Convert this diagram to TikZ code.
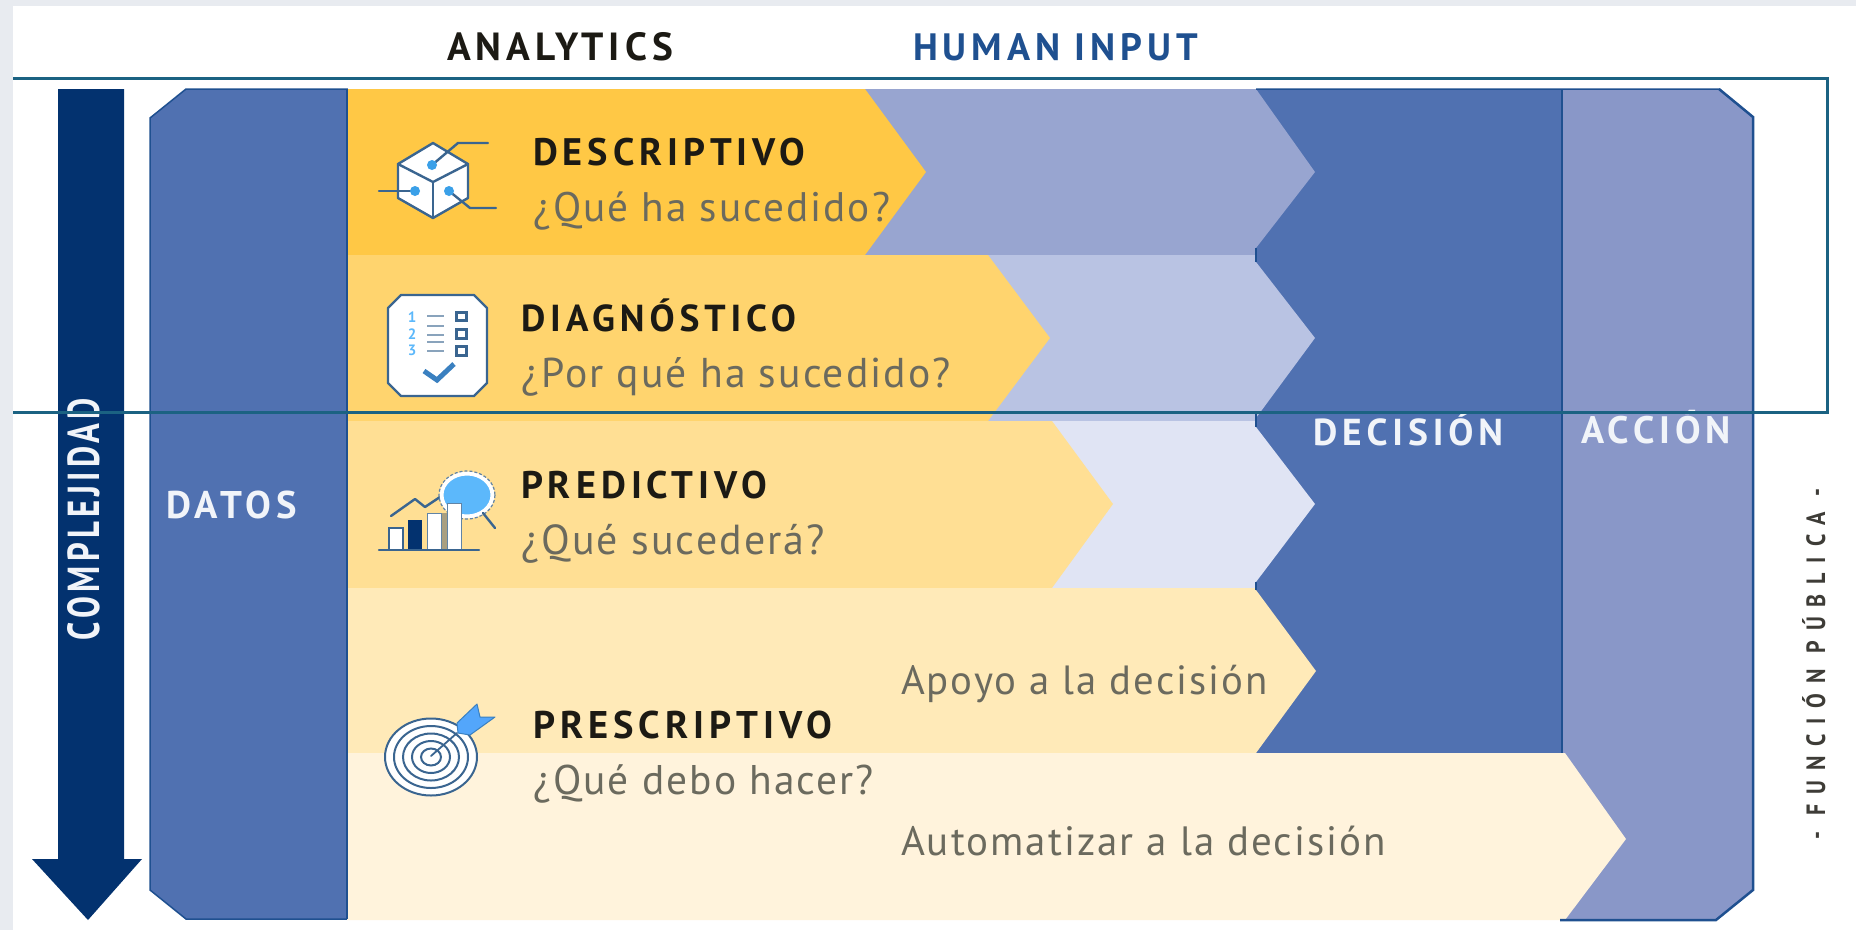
\documentclass[tikz,border=0pt]{standalone}
\usepackage{fontspec}
\usepackage{graphicx}
\newfontfamily\headf{PT Sans}[LetterSpace=13]
\newfontfamily\onf{PT Sans}[LetterSpace=13]
\newfontfamily\subf{PT Sans}[LetterSpace=5]
\newfontfamily\widef{PT Sans}[LetterSpace=45]
\newcommand{\hfit}[2]{\resizebox{#1pt}{!}{\headf\bfseries\fontsize{36}{40}\selectfont #2}}
\newcommand{\ofit}[2]{\resizebox{#1pt}{!}{\onf\bfseries\fontsize{36}{40}\selectfont #2}}
\newcommand{\sfit}[2]{\resizebox{#1pt}{!}{\subf\fontsize{36}{40}\selectfont #2}}
\definecolor{pagebg}{HTML}{E8EBF0}
\definecolor{framec}{HTML}{1B6282}
\definecolor{navy}{HTML}{03326F}
\definecolor{datac}{HTML}{5071B1}
\definecolor{edgec}{HTML}{1F5090}
\definecolor{accionc}{HTML}{8997C8}
\definecolor{yone}{HTML}{FFC845}
\definecolor{ytwo}{HTML}{FFD46E}
\definecolor{ythree}{HTML}{FFDF94}
\definecolor{yfour}{HTML}{FFEAB8}
\definecolor{yfive}{HTML}{FFF3DC}
\definecolor{lone}{HTML}{98A5D0}
\definecolor{ltwo}{HTML}{B9C3E3}
\definecolor{lthree}{HTML}{E0E4F4}
\definecolor{inkc}{HTML}{1C1A14}
\definecolor{subc}{HTML}{6B6A5E}
\definecolor{iconc}{HTML}{3A6590}
\definecolor{skyc}{HTML}{5CB8FB}
\definecolor{dotc}{HTML}{3AA0E8}
\definecolor{checkc}{HTML}{3A80C0}
\definecolor{shadowc}{HTML}{A99F80}
\tikzset{
  txt/.style={anchor=base west,inner sep=0pt,outer sep=0pt},
  heading/.style={txt,text=inkc},
  subtitle/.style={txt,text=subc},
  onblue/.style={txt,text=white!92!datac},
  iconline/.style={draw=iconc,line width=2.4pt,line cap=round,line join=round},
  thinedge/.style={draw=edgec,line width=1.5pt},
  notch/.style={draw=edgec,line width=2.5pt},
}
\begin{document}
\begin{tikzpicture}[x=1pt,y=-1pt]
\useasboundingbox (0,0) rectangle (1856,930);
\fill[pagebg] (0,0) rectangle (1856,930);
\fill[white] (13,6) rectangle (1856,930);
% complexity arrow
\fill[navy] (58,89) -- (124,89) -- (124,859) -- (142,859) -- (88,920) -- (32,859) -- (58,859) -- cycle;
% datos
\path[fill=datac,thinedge] (150,118) -- (186,89) -- (347,89) -- (347,919) -- (186,919) -- (150,890) -- cycle;
% accion
\fill[accionc] (1562,89) -- (1719,89) -- (1753,117) -- (1753,890) -- (1716,920) -- (1562,920) -- cycle;
% decision
\fill[datac] (1256,89) rectangle (1562,753);
% lavender chevrons
\fill[lone] (850,89) -- (1256,89) -- (1315,172) -- (1256,248) -- (1256,255) -- (850,255) -- cycle;
\fill[ltwo] (950,255) -- (1256,255) -- (1256,262) -- (1315,338) -- (1256,418) -- (1256,421) -- (950,421) -- cycle;
\fill[lthree] (1000,421) -- (1256,421) -- (1256,427) -- (1315,504) -- (1256,582) -- (1256,588) -- (1000,588) -- cycle;
% analytics bands
\fill[yone] (347,89) -- (865,89) -- (926,172) -- (865,255) -- (347,255) -- cycle;
\fill[ytwo] (347,255) -- (988,255) -- (1050,338) -- (988,421) -- (347,421) -- cycle;
\fill[ythree] (347,421) -- (1052,421) -- (1113,504) -- (1052,588) -- (347,588) -- cycle;
\fill[yfour] (347,588) -- (1256,588) -- (1256,590) -- (1316,671) -- (1256,753) -- (347,753) -- cycle;
\fill[yfive] (347,753) -- (1565,753) -- (1626,839) -- (1565,920) -- (347,920) -- cycle;
% dark edges
\draw[notch] (1256,248) -- (1256,262);
\draw[notch] (1256,413) -- (1256,427);
\draw[notch] (1256,582) -- (1256,590);
\draw[notch] (1562,89) -- (1562,753);
\draw[thinedge] (1256,89) -- (1719,89) -- (1753,117);
\draw[notch] (1719,89) -- (1753,117) -- (1753,890) -- (1716,920) -- (1560,920);
\draw[thinedge] (347,89) -- (347,919);
% cube icon
\path[fill=white,iconline] (433,143) -- (468,164) -- (468,198) -- (433,218) -- (398,198) -- (398,164) -- cycle;
\draw[iconline] (398,164) -- (433,182) -- (468,164);
\draw[iconline] (433,182) -- (433,218);
\draw[iconline] (432,165) -- (458,143) -- (488,143);
\draw[iconline] (415,191) -- (379,191);
\draw[iconline] (449,191) -- (470,208) -- (496,208);
\fill[dotc] (432,165) circle (5);
\fill[dotc] (415,191) circle (5);
\fill[dotc] (449,191) circle (5);
% checklist icon
\path[fill=white,iconline] (401,295) -- (474,295) -- (487,308) -- (487,383) -- (474,396) -- (401,396) -- (388,383) -- (388,308) -- cycle;
\node[inner sep=0pt,text=skyc] (numa) at (412,317) {\subf\bfseries\fontsize{15}{15}\selectfont 1};
\node[inner sep=0pt,text=skyc] (numb) at (412,334) {\subf\bfseries\fontsize{15}{15}\selectfont 2};
\node[inner sep=0pt,text=skyc] (numc) at (412,350) {\subf\bfseries\fontsize{15}{15}\selectfont 3};
\draw[iconc!60,line width=2.2pt] (427,316) -- (444,316) (427,326) -- (444,326) (427,335) -- (444,335) (427,342) -- (444,342) (427,351) -- (444,351);
\draw[iconc,line width=3pt] (456,312) rectangle (466,320) (456,329) rectangle (466,338) (456,346) rectangle (466,355);
\draw[draw=checkc,line width=5pt] (424,371) -- (437,380) -- (454,364);
% chart icon
\draw[iconline] (391,516) -- (415,499) -- (425,507) -- (440,497);
\path[fill=skyc,draw=white,line width=4pt] (467,495) ellipse (25.5 and 21.5);
\draw[iconc!80,line width=1.2pt,densely dashed] (467,495) ellipse (28 and 24);
\draw[iconline] (483,513) -- (495,528);
\path[fill=white,draw=iconc,line width=1.4pt] (389,528) rectangle (403,550);
\fill[navy] (408,520) rectangle (422,550);
\path[fill=white,draw=iconc!80,line width=1pt] (427,513) rectangle (441,550);
\fill[shadowc] (441.5,513) rectangle (447,550);
\path[fill=white,draw=iconc!80,line width=1pt] (447,503) rectangle (461,550);
\draw[iconline] (379,550) -- (479,550);
% target icon
\foreach \rx/\ry in {46/38.5,37/31,28/23.5,19/16,10/8.5}
  \path[fill=white,draw=iconc,line width=2pt] (431,757) ellipse (\rx pt and \ry pt);
\draw[iconline,line width=1.8pt] (431,756) -- (457,733);
\path[fill=skyc!90!blue,draw=checkc,line width=1pt,line join=round] (457,723) -- (477,704) -- (480,717) -- (495,717) -- (470,735) -- (458,733) -- cycle;
% texts
\node[heading] (analytics) at (447,60) {\hfit{226}{ANALYTICS}};
\node[txt,text=edgec] (human) at (913,60) {\hfit{285}{HUMAN INPUT}};
\node[heading] (descriptivo) at (533,165) {\hfit{272}{DESCRIPTIVO}};
\node[subtitle] (qa) at (533,221) {\sfit{357}{¿Qué ha sucedido?}};
\node[heading] (diagnostico) at (521,331) {\hfit{275}{DIAGNÓSTICO}};
\node[subtitle] (qb) at (521,387) {\sfit{430}{¿Por qué ha sucedido?}};
\node[heading] (predictivo) at (521,498) {\hfit{246}{PREDICTIVO}};
\node[subtitle] (qc) at (521,554) {\sfit{304}{¿Qué sucederá?}};
\node[heading] (prescriptivo) at (533,738) {\hfit{299}{PRESCRIPTIVO}};
\node[subtitle] (qd) at (533,794) {\sfit{341}{¿Qué debo hacer?}};
\node[subtitle] (apoyo) at (901,694) {\sfit{367}{Apoyo a la decisión}};
\node[subtitle] (auto) at (901,855) {\sfit{485}{Automatizar a la decisión}};
\node[onblue] (datos) at (166,518) {\ofit{131}{DATOS}};
\node[onblue] (decision) at (1313,445) {\ofit{190}{DECISIÓN}};
\node[onblue] (accion) at (1581,443) {\ofit{150}{ACCIÓN}};
\node[onblue,rotate=90] (compl) at (99,640) {\resizebox{242pt}{32pt}{\onf\bfseries\fontsize{36}{40}\selectfont COMPLEJIDAD}};
\node[txt,text=inkc!85,rotate=90] (fp) at (1825,839) {\resizebox{350pt}{23pt}{\widef\bfseries\fontsize{36}{40}\selectfont - FUNCIÓN PÚBLICA -}};
% frame
\draw[framec,line width=3pt] (13,78) -- (1827,78) -- (1827,412) -- (13,412);
\end{tikzpicture}
\end{document}
